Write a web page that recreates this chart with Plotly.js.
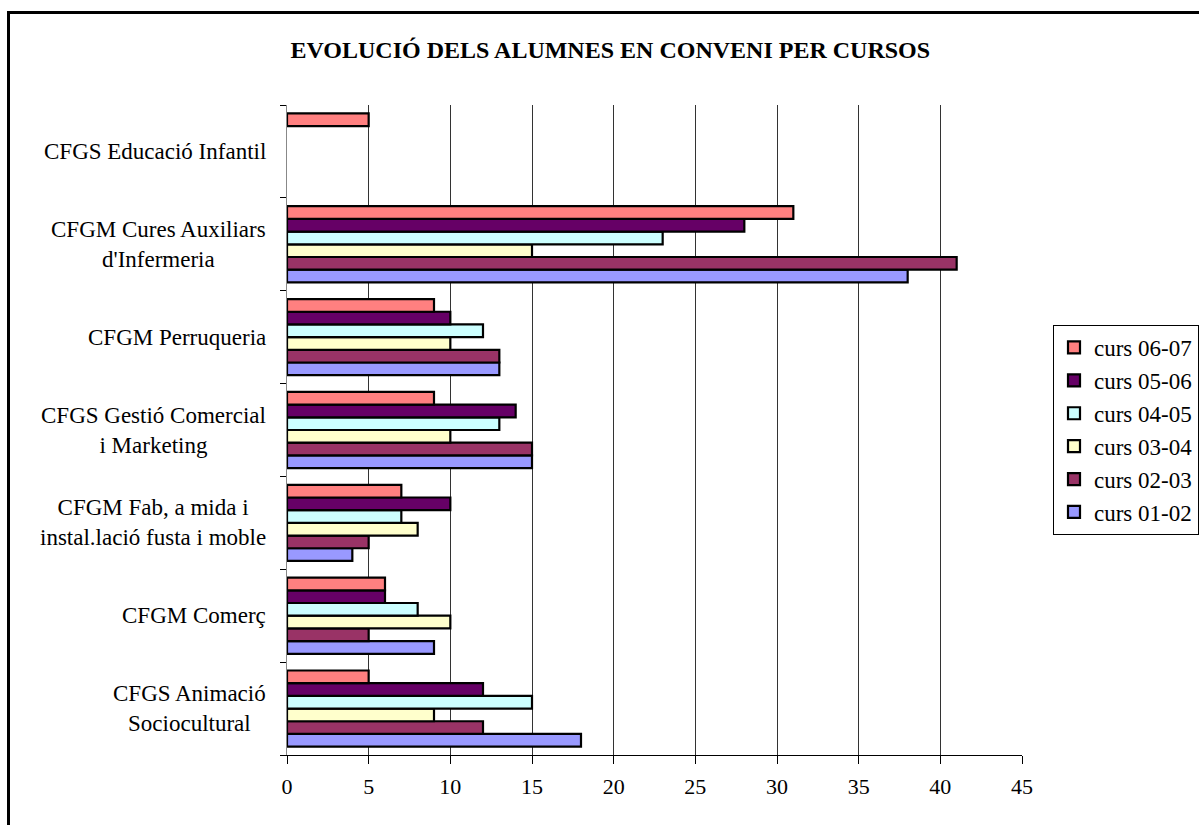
<!DOCTYPE html>
<html>
<head>
<meta charset="utf-8">
<script src="https://cdn.plot.ly/plotly-3.0.1.min.js"></script>
<style>
  html, body { margin: 0; padding: 0; background: #fff; overflow: hidden; }
  #chart { width: 1199px; height: 825px; }
  #frame { position: absolute; left: 7px; top: 11px; width: 1300px; height: 1000px;
           border: 3px solid #000; pointer-events: none; }
</style>
</head>
<body>
<div id="chart"></div>
<div id="frame"></div>
<script>
// Categories, bottom to top
const categories = [
  "CFGS Animació<br>Sociocultural",
  "CFGM Comerç",
  "CFGM Fab, a mida i<br>instal.lació fusta i moble",
  "CFGS Gestió Comercial<br>i Marketing",
  "CFGM Perruqueria",
  "CFGM Cures Auxiliars<br>d'Infermeria",
  "CFGS Educació Infantil"
];

const seriesNames = ["curs 01-02", "curs 02-03", "curs 03-04", "curs 04-05", "curs 05-06", "curs 06-07"];
const curs0102 = [18, 9, 4, 15, 13, 38, null];
const curs0203 = [12, 5, 5, 15, 13, 41, null];
const curs0304 = [9, 10, 8, 10, 10, 15, null];
const curs0405 = [15, 8, 7, 13, 12, 23, null];
const curs0506 = [12, 6, 10, 14, 10, 28, null];
const curs0607 = [5, 6, 7, 9, 9, 31, 5];
const seriesValues = [curs0102, curs0203, curs0304, curs0405, curs0506, curs0607];
const seriesColors = ["#9999FF", "#993366", "#FFFFCC", "#CCFFFF", "#660066", "#FF8080"];

const xTickVals = [0, 5, 10, 15, 20, 25, 30, 35, 40, 45];
const titleText = "EVOLUCIÓ DELS ALUMNES EN CONVENI PER CURSOS";

const FONT = "'Liberation Serif', 'Times New Roman', serif";

const traces = seriesNames.map((name, i) => ({
  type: "bar",
  orientation: "h",
  name: name,
  legendgroup: name,
  y: categories,
  x: seriesValues[i],
  marker: { color: seriesColors[i], line: { color: "#000", width: 2.2 } },
  hoverinfo: "x+name"
}));

const annotations = categories.map(c => ({
  xref: "paper", yref: "y",
  x: 0, y: c,
  xanchor: "right", yanchor: "middle",
  xshift: -19,
  align: "center",
  showarrow: false,
  text: c,
  font: { family: FONT, size: 23, color: "#000" }
}));

const layout = {
  width: 1199, height: 825,
  margin: { l: 287, r: 177, t: 105, b: 70 },
  paper_bgcolor: "#fff",
  plot_bgcolor: "#fff",
  font: { family: FONT, color: "#000" },
  title: {
    text: "<b>" + titleText + "</b>",
    font: { family: FONT, size: 24, color: "#000" },
    xref: "container", yref: "container",
    x: 0.509, y: 1 - 50 / 825, xanchor: "center", yanchor: "middle"
  },
  barmode: "group",
  bargap: 0.18,
  bargroupgap: 0,
  xaxis: {
    range: [0, 45],
    tickvals: xTickVals,
    ticktext: xTickVals.map(String),
    showgrid: true,
    gridcolor: "#333",
    gridwidth: 1,
    showline: true,
    linecolor: "#000",
    linewidth: 1,
    ticks: "outside",
    ticklen: 8,
    tickcolor: "#000",
    ticklabelstandoff: 4,
    tickfont: { family: FONT, size: 22, color: "#000" },
    zeroline: false,
    fixedrange: true
  },
  yaxis: {
    type: "category",
    categoryorder: "array",
    categoryarray: categories,
    showticklabels: false,
    tickson: "boundaries",
    ticks: "outside",
    ticklen: 6,
    tickcolor: "#000",
    showline: true,
    linecolor: "#888",
    linewidth: 1,
    showgrid: false,
    zeroline: false,
    fixedrange: true
  },
  annotations: annotations,
  showlegend: true,
  legend: {
    traceorder: "reversed",
    x: 1, xref: "container",
    xanchor: "right",
    y: 0.5, yanchor: "middle",
    bordercolor: "#000",
    borderwidth: 1,
    bgcolor: "#fff",
    tracegroupgap: 8,
    font: { family: FONT, size: 23, color: "#000" },
    itemwidth: 30
  }
};

Plotly.newPlot("chart", traces, layout, { displayModeBar: false, staticPlot: true });
</script>
</body>
</html>
